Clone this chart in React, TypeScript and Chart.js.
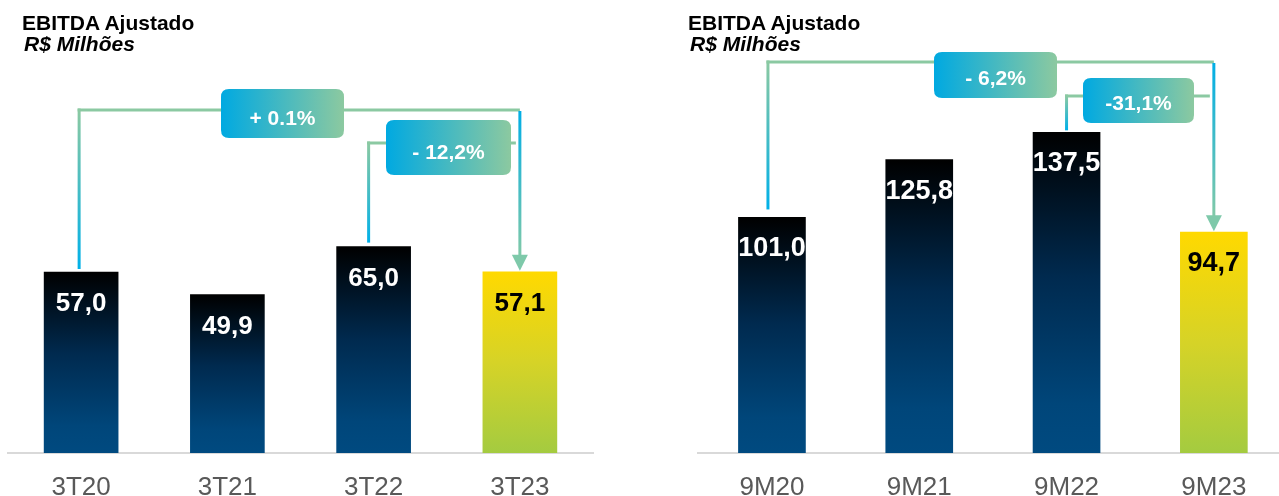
import { useEffect, useRef } from "react";
import { Chart, registerables } from "chart.js";

Chart.register(...registerables);

// ---- Data ----
const quarterCategories = ["3T20", "3T21", "3T22", "3T23"];
const quarterValues = [57.0, 49.9, 65.0, 57.1];
const quarterValueLabels = ["57,0", "49,9", "65,0", "57,1"];
const quarterChanges = [
  { from: 0, to: 3, text: "+ 0.1%" },
  { from: 2, to: 3, text: "- 12,2%" },
];

const ytdCategories = ["9M20", "9M21", "9M22", "9M23"];
const ytdValues = [101.0, 125.8, 137.5, 94.7];
const ytdValueLabels = ["101,0", "125,8", "137,5", "94,7"];
const ytdChanges = [
  { from: 0, to: 3, text: "- 6,2%" },
  { from: 2, to: 3, text: "-31,1%" },
];

const chartTitle = "EBITDA Ajustado";
const chartUnit = "R$ Milhões";

// ---- Layout / style ----
const FONT = "'Liberation Sans', Arial, Helvetica, sans-serif";

type ConnLayout = {
  lineY: number;
  startDx: number;
  gap: number;
  arrow: boolean;
  box: { cx: number; cy: number; w: number; h: number; ty: number };
};

type Layout = {
  left: number;
  width: number;
  padLeft: number;
  padRight: number;
  padTop: number;
  yMax: number;
  barThickness: number;
  valueFont: number;
  connectors: ConnLayout[];
};

const leftLayout: Layout = {
  left: 0,
  width: 640,
  padLeft: 8,
  padRight: 47,
  padTop: 8.5,
  yMax: 140,
  barThickness: 74,
  valueFont: 26,
  connectors: [
    { lineY: 110, startDx: -2, gap: 3, arrow: true, box: { cx: 282.5, cy: 113.5, w: 123, h: 49, ty: 117 } },
    { lineY: 143, startDx: -5, gap: 4, arrow: false, box: { cx: 448.5, cy: 147.5, w: 125, h: 55, ty: 151.5 } },
  ],
};

const rightLayout: Layout = {
  left: 640,
  width: 680,
  padLeft: 58.3,
  padRight: 32.5,
  padTop: 33.2,
  yMax: 180,
  barThickness: 67,
  valueFont: 27,
  connectors: [
    { lineY: 62, startDx: -4, gap: 8, arrow: true, box: { cx: 355.5, cy: 75, w: 123, h: 46, ty: 77 } },
    { lineY: 96, startDx: 0, gap: 2, arrow: false, box: { cx: 498.5, cy: 100.5, w: 111, h: 45, ty: 102 } },
  ],
};

const CANVAS_H = 496;
const AXIS_H = 43;

function roundRect(ctx: CanvasRenderingContext2D, x: number, y: number, w: number, h: number, r: number) {
  ctx.beginPath();
  ctx.moveTo(x + r, y);
  ctx.lineTo(x + w - r, y);
  ctx.quadraticCurveTo(x + w, y, x + w, y + r);
  ctx.lineTo(x + w, y + h - r);
  ctx.quadraticCurveTo(x + w, y + h, x + w - r, y + h);
  ctx.lineTo(x + r, y + h);
  ctx.quadraticCurveTo(x, y + h, x, y + h - r);
  ctx.lineTo(x, y + r);
  ctx.quadraticCurveTo(x, y, x + r, y);
  ctx.closePath();
}

function makeChart(
  canvas: HTMLCanvasElement,
  categories: string[],
  values: number[],
  valueLabels: string[],
  changes: { from: number; to: number; text: string }[],
  layout: Layout
) {
  const last = values.length - 1;

  const overlayPlugin = {
    id: "overlay",
    afterDatasetsDraw(chart: any) {
      const ctx: CanvasRenderingContext2D = chart.ctx;
      const meta = chart.getDatasetMeta(0);
      // value labels
      ctx.save();
      ctx.font = `bold ${layout.valueFont}px ${FONT}`;
      ctx.textAlign = "center";
      ctx.textBaseline = "alphabetic";
      meta.data.forEach((bar: any, i: number) => {
        ctx.fillStyle = i === last ? "#000000" : "#ffffff";
        ctx.fillText(valueLabels[i], bar.x, bar.y + 39);
      });
      ctx.restore();

      // connectors
      changes.forEach((ch, k) => {
        const L = layout.connectors[k];
        const a = meta.data[ch.from];
        const b = meta.data[ch.to];
        const sx = a.x + L.startDx;
        const sBottom = a.y - L.gap;
        const ex = b.x;
        const tipY = b.y - 1;
        const ly = L.lineY;
        ctx.save();
        ctx.lineWidth = 3;
        ctx.lineCap = "butt";
        // horizontal
        ctx.strokeStyle = "#8bc9a2";
        ctx.beginPath();
        ctx.moveTo(sx - 1.5, ly);
        ctx.lineTo(L.arrow ? ex : ex - 4, ly);
        ctx.stroke();
        // start vertical
        const g1 = ctx.createLinearGradient(0, ly, 0, sBottom);
        g1.addColorStop(0, "#8bc9a2");
        g1.addColorStop(1, "#00b0e8");
        ctx.strokeStyle = g1;
        ctx.beginPath();
        ctx.moveTo(sx, ly - 1.5);
        ctx.lineTo(sx, sBottom);
        ctx.stroke();
        if (L.arrow) {
          const base = tipY - 16;
          const g2 = ctx.createLinearGradient(0, ly, 0, base);
          g2.addColorStop(0, "#00aee6");
          g2.addColorStop(1, "#80c9a8");
          ctx.strokeStyle = g2;
          ctx.beginPath();
          ctx.moveTo(ex, ly + 1);
          ctx.lineTo(ex, base + 1);
          ctx.stroke();
          ctx.fillStyle = "#7ec9aa";
          ctx.beginPath();
          ctx.moveTo(ex - 8, base);
          ctx.lineTo(ex + 8, base);
          ctx.lineTo(ex, tipY);
          ctx.closePath();
          ctx.fill();
        }
        // box
        const bx = L.box.cx - L.box.w / 2;
        const by = L.box.cy - L.box.h / 2;
        const g3 = ctx.createLinearGradient(bx, 0, bx + L.box.w, 0);
        g3.addColorStop(0, "#00a9e1");
        g3.addColorStop(1, "#8cc9a0");
        ctx.fillStyle = g3;
        roundRect(ctx, bx, by, L.box.w, L.box.h, 8);
        ctx.fill();
        ctx.fillStyle = "#ffffff";
        ctx.font = `bold 21px ${FONT}`;
        ctx.textAlign = "center";
        ctx.textBaseline = "alphabetic";
        ctx.fillText(ch.text, L.box.cx, L.box.ty + 21 * 0.716 / 2);
        ctx.restore();
      });
    },
  };

  return new Chart(canvas, {
    type: "bar",
    data: {
      labels: categories,
      datasets: [
        {
          data: values,
          barThickness: layout.barThickness,
          borderWidth: 0,
          backgroundColor: (c: any) => {
            const chart = c.chart;
            if (!chart.chartArea || c.dataIndex === undefined) return "#004a80";
            const i = c.dataIndex;
            const y = chart.scales.y;
            const top = y.getPixelForValue(values[i]);
            const bot = y.getPixelForValue(0);
            const g = chart.ctx.createLinearGradient(0, top, 0, bot);
            if (i === last) {
              g.addColorStop(0, "#ffd900");
              g.addColorStop(0.5, "#d6d327");
              g.addColorStop(1, "#a4cb40");
            } else {
              g.addColorStop(0, "#000000");
              g.addColorStop(0.45, "#002a4f");
              g.addColorStop(0.85, "#00467a");
              g.addColorStop(1, "#004a80");
            }
            return g;
          },
        },
      ],
    },
    options: {
      animation: false,
      responsive: false,
      maintainAspectRatio: false,
      layout: {
        padding: { left: layout.padLeft, right: layout.padRight, top: layout.padTop, bottom: 0 },
      },
      plugins: {
        legend: { display: false },
        tooltip: { enabled: false },
        title: { display: false },
      },
      scales: {
        x: {
          grid: { display: false, drawTicks: false },
          border: { display: true, color: "#d9d9d9", width: 2 },
          ticks: {
            color: "#595959",
            font: { family: FONT, size: 26, lineHeight: 1 },
            padding: 22,
            maxRotation: 0,
            autoSkip: false,
          },
          afterFit: (scale: any) => {
            scale.height = AXIS_H;
          },
        },
        y: {
          display: false,
          min: 0,
          max: layout.yMax,
        },
      },
    },
    plugins: [overlayPlugin],
  });
}

function ChartPanel(props: {
  categories: string[];
  values: number[];
  valueLabels: string[];
  changes: { from: number; to: number; text: string }[];
  layout: Layout;
  titleLeft: number;
}) {
  const ref = useRef<HTMLCanvasElement | null>(null);
  useEffect(() => {
    if (!ref.current) return;
    const ch = makeChart(ref.current, props.categories, props.values, props.valueLabels, props.changes, props.layout);
    return () => ch.destroy();
  }, []);
  return (
    <>
      <canvas
        ref={ref}
        width={props.layout.width}
        height={CANVAS_H}
        style={{ position: "absolute", left: props.layout.left, top: 0, width: props.layout.width, height: CANVAS_H }}
      />
      <div
        style={{
          position: "absolute",
          left: props.titleLeft,
          top: 12,
          fontFamily: FONT,
          fontSize: 21,
          lineHeight: "21px",
          color: "#000",
          fontWeight: "bold",
          whiteSpace: "nowrap",
        }}
      >
        <div>{chartTitle}</div>
        <div style={{ fontStyle: "italic", marginLeft: 2 }}>{chartUnit}</div>
      </div>
    </>
  );
}

export default function App() {
  return (
    <div
      style={{
        position: "absolute",
        left: 0,
        top: 0,
        width: 1279,
        height: 496,
        overflow: "hidden",
        background: "#ffffff",
      }}
    >
      <ChartPanel
        categories={quarterCategories}
        values={quarterValues}
        valueLabels={quarterValueLabels}
        changes={quarterChanges}
        layout={leftLayout}
        titleLeft={22}
      />
      <ChartPanel
        categories={ytdCategories}
        values={ytdValues}
        valueLabels={ytdValueLabels}
        changes={ytdChanges}
        layout={rightLayout}
        titleLeft={688}
      />
    </div>
  );
}
